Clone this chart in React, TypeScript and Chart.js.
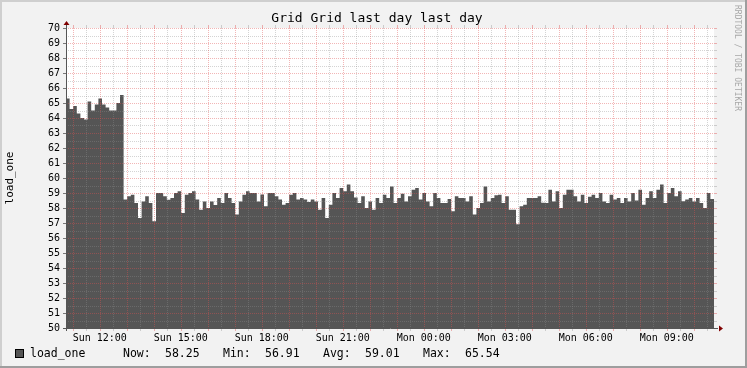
import React, { useEffect, useRef } from 'react';
import { Chart, registerables } from 'chart.js';

Chart.register(...registerables);

const TITLE = 'Grid Grid last day last day';
const Y_TITLE = 'load_one';
const WATERMARK = 'RRDTOOL / TOBI OETIKER';

// time in minutes from Sun 00:00; first sample at Sun 10:45, one every 8 minutes
const START_MIN = 645;
const STEP_MIN = 8;
const END_MIN = 2085;

const loadOne: number[] = [
  // Sun 10:45 .. ~12:45 plateau
  65.3, 64.6, 64.8, 64.3, 64.0, 63.9, 65.1, 64.5, 64.9, 65.3, 64.9, 64.7, 64.5, 64.5, 65.0, 65.54,
  // drop and rest of day
  58.56, 58.78, 58.89, 58.33, 57.33, 58.44, 58.78, 58.33, 57.11, 59.0, 59.0, 58.78, 58.55,
  58.67, 59.0, 59.11, 57.67, 58.89, 59.0, 59.11, 58.56, 57.89, 58.44, 58.0, 58.44, 58.2,
  58.67, 58.33, 59.0, 58.67, 58.33, 57.56, 58.44, 58.89, 59.11, 59.0, 59.0, 58.44, 58.9,
  58.11, 59.0, 59.0, 58.78, 58.56, 58.22, 58.33, 58.89, 59.0, 58.56, 58.67, 58.56, 58.4,
  58.56, 58.44, 57.89, 58.67, 57.33, 58.22, 59.0, 58.67, 59.33, 59.11, 59.56, 59.11, 58.7,
  58.33, 58.78, 58.0, 58.44, 57.89, 58.67, 58.33, 58.89, 58.67, 59.44, 58.33, 58.67, 58.95,
  58.44, 58.78, 59.22, 59.33, 58.56, 59.0, 58.44, 58.11, 59.0, 58.67, 58.33, 58.33, 58.6,
  57.78, 58.78, 58.67, 58.67, 58.44, 58.78, 57.56, 58.0, 58.33, 59.44, 58.44, 58.67, 58.85,
  58.89, 58.33, 58.78, 57.89, 57.89, 56.91, 58.11, 58.22, 58.67, 58.67, 58.67, 58.78, 58.35,
  58.33, 59.22, 58.44, 59.11, 58.0, 58.89, 59.22, 59.22, 58.78, 58.44, 58.89, 58.33, 58.75,
  58.89, 58.67, 59.0, 58.44, 58.33, 58.89, 58.56, 58.67, 58.33, 58.67, 58.44, 59.0, 58.5,
  59.22, 58.22, 58.67, 59.11, 58.67, 59.22, 59.56, 58.33, 59.0, 59.33, 58.78, 59.11, 58.45,
  58.56, 58.67, 58.44, 58.67, 58.33, 58.0, 59.0, 58.6, 58.25,
];

const tickMinutes = [720, 900, 1080, 1260, 1440, 1620, 1800, 1980];
const tickLabels = ['Sun 12:00', 'Sun 15:00', 'Sun 18:00', 'Sun 21:00', 'Mon 00:00', 'Mon 03:00', 'Mon 06:00', 'Mon 09:00'];

const Y_MIN = 50;
const Y_MAX = 70;

const legendName = 'load_one';
const legendLabels = ['Now:', 'Min:', 'Avg:', 'Max:'];
const legendValues = ['58.25', '56.91', '59.01', '65.54'];

const MONO = '"DejaVu Sans Mono", monospace';

const rrdPlugin = {
  id: 'rrd',
  beforeDraw(chart: any) {
    const { ctx, width, height, chartArea } = chart;
    ctx.save();
    ctx.fillStyle = '#f2f2f2';
    ctx.fillRect(0, 0, width, height);
    ctx.fillStyle = '#cfcfcf';
    ctx.fillRect(0, 0, width, 2);
    ctx.fillRect(0, 0, 2, height);
    ctx.fillStyle = '#9e9e9e';
    ctx.fillRect(0, height - 2, width, 2);
    ctx.fillRect(width - 2, 0, 2, height);
    ctx.fillStyle = '#ffffff';
    ctx.fillRect(chartArea.left, chartArea.top, chartArea.right - chartArea.left, chartArea.bottom - chartArea.top);
    ctx.restore();
  },
  afterDatasetsDraw(chart: any) {
    const { ctx, chartArea } = chart;
    const xs = chart.scales.x;
    const ys = chart.scales.y;
    const L = chartArea.left, R = chartArea.right, T = chartArea.top, B = chartArea.bottom;
    ctx.save();
    ctx.lineWidth = 1;
    const minorCol = 'rgba(143,143,143,0.38)';
    const majorCol = 'rgba(225,80,80,0.42)';
    const hline = (v: number, col: string) => {
      const py = Math.round(ys.getPixelForValue(v)) + 0.5;
      ctx.strokeStyle = col;
      ctx.setLineDash([]);
      ctx.beginPath();
      ctx.moveTo(R, py); ctx.lineTo(R + 3, py);
      ctx.stroke();
      ctx.setLineDash([1, 1]);
      ctx.beginPath();
      ctx.moveTo(L, py); ctx.lineTo(R, py);
      ctx.stroke();
    };
    const vline = (m: number, col: string) => {
      const px = Math.round(xs.getPixelForValue(m)) + 0.5;
      ctx.strokeStyle = col;
      ctx.setLineDash([]);
      ctx.beginPath();
      ctx.moveTo(px, T - 3); ctx.lineTo(px, T);
      ctx.moveTo(px, B); ctx.lineTo(px, B + 3);
      ctx.stroke();
      ctx.setLineDash([1, 1]);
      ctx.beginPath();
      ctx.moveTo(px, T); ctx.lineTo(px, B);
      ctx.stroke();
    };
    for (let v = Y_MIN + 0.5; v < Y_MAX; v += 1) hline(v, minorCol);
    for (let m = START_MIN + 45; m < END_MIN; m += 60) vline(m, minorCol);
    for (let v = Y_MIN + 1; v <= Y_MAX; v += 1) hline(v, majorCol);
    for (let m = START_MIN + 15; m < END_MIN; m += 60) vline(m, majorCol);
    ctx.setLineDash([]);
    ctx.strokeStyle = '#777777';
    ctx.beginPath();
    for (let v = Y_MIN; v <= Y_MAX; v += 1) {
      const py = Math.round(ys.getPixelForValue(v)) + 0.5;
      ctx.moveTo(L - 3, py); ctx.lineTo(L, py);
    }
    ctx.stroke();
    const ax = Math.round(L) + 0.5;
    const ay = Math.round(B) + 0.5;
    ctx.strokeStyle = '#555555';
    ctx.beginPath();
    ctx.moveTo(ax, T - 3); ctx.lineTo(ax, B + 3);
    ctx.moveTo(L - 3, ay); ctx.lineTo(R + 4, ay);
    ctx.stroke();
    ctx.fillStyle = '#800000';
    ctx.beginPath();
    ctx.moveTo(ax, T - 7); ctx.lineTo(ax - 3, T - 3); ctx.lineTo(ax + 3, T - 3); ctx.closePath();
    ctx.fill();
    ctx.beginPath();
    ctx.moveTo(R + 9, ay); ctx.lineTo(R + 5, ay - 3); ctx.lineTo(R + 5, ay + 3); ctx.closePath();
    ctx.fill();
    ctx.restore();
  },
  afterDraw(chart: any) {
    const { ctx, chartArea } = chart;
    ctx.save();
    ctx.fillStyle = '#000000';
    ctx.font = `13px ${MONO}`;
    ctx.textAlign = 'center';
    ctx.textBaseline = 'middle';
    ctx.fillText(TITLE, 377, 19);
    ctx.save();
    ctx.translate(10, (chartArea.top + chartArea.bottom) / 2);
    ctx.rotate(-Math.PI / 2);
    ctx.font = `11px ${MONO}`;
    ctx.textAlign = 'center';
    ctx.textBaseline = 'middle';
    ctx.fillText(Y_TITLE, 0, 0);
    ctx.restore();
    ctx.save();
    ctx.translate(737, 5);
    ctx.rotate(Math.PI / 2);
    ctx.font = `8px ${MONO}`;
    ctx.fillStyle = '#a8a8a8';
    ctx.textAlign = 'left';
    ctx.textBaseline = 'middle';
    ctx.fillText(WATERMARK, 0, 0);
    ctx.restore();
    ctx.fillStyle = '#555555';
    ctx.fillRect(15, 349, 9, 9);
    ctx.strokeStyle = '#000000';
    ctx.lineWidth = 1;
    ctx.strokeRect(15.5, 349.5, 8, 8);
    ctx.fillStyle = '#000000';
    ctx.font = `11.5px ${MONO}`;
    ctx.textAlign = 'left';
    ctx.textBaseline = 'alphabetic';
    ctx.fillText(legendName, 30, 357);
    const lx = [123, 223, 323, 423];
    const vx = [165, 265, 365, 465];
    legendLabels.forEach((t, i) => {
      ctx.fillText(t, lx[i], 357);
      ctx.fillText(legendValues[i], vx[i], 357);
    });
    ctx.restore();
  },
};

export default function App() {
  const ref = useRef<HTMLCanvasElement | null>(null);
  useEffect(() => {
    if (!ref.current) return;
    const points = loadOne.map((v, i) => ({ x: START_MIN + i * STEP_MIN, y: v }));
    const chart = new Chart(ref.current, {
      type: 'line',
      data: {
        datasets: [
          {
            label: legendName,
            data: points,
            fill: 'start',
            backgroundColor: '#555555',
            borderColor: '#555555',
            borderWidth: 0,
            pointRadius: 0,
            stepped: 'before',
          },
        ],
      },
      options: {
        responsive: false,
        animation: false,
        layout: { padding: { top: 28, right: 33, bottom: 0, left: 0 } },
        plugins: { legend: { display: false }, title: { display: false }, tooltip: { enabled: false } },
        scales: {
          x: {
            type: 'linear',
            min: START_MIN,
            max: END_MIN,
            grid: { display: false, drawTicks: false },
            border: { display: false },
            afterBuildTicks: (s: any) => {
              s.ticks = tickMinutes.map((v) => ({ value: v }));
            },
            afterFit: (s: any) => {
              s.height = 40;
            },
            ticks: {
              font: { family: MONO, size: 10 },
              color: '#000000',
              padding: 4,
              maxRotation: 0,
              autoSkip: false,
              callback: (_v: any, i: number) => tickLabels[i],
            },
          },
          y: {
            min: Y_MIN,
            max: Y_MAX,
            grid: { display: false, drawTicks: false },
            border: { display: false },
            afterFit: (s: any) => {
              s.width = 66;
            },
            ticks: {
              stepSize: 1,
              autoSkip: false,
              font: { family: MONO, size: 10 },
              color: '#000000',
              padding: 6,
            },
          },
        },
      },
      plugins: [rrdPlugin],
    });
    return () => chart.destroy();
  }, []);
  return (
    <div style={{ position: 'absolute', left: 0, top: 0, width: 747, height: 368 }}>
      <canvas ref={ref} width={747} height={368} style={{ display: 'block' }} />
    </div>
  );
}
